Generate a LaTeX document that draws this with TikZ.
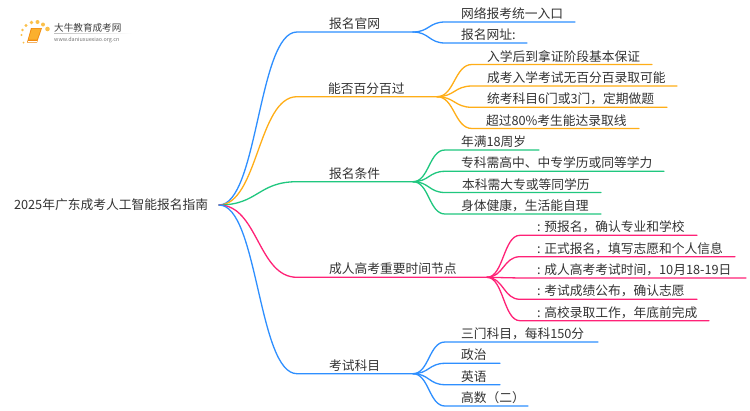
\documentclass[tikz,border=0pt]{standalone}
\usepackage{fontspec}
\setmainfont{Noto Sans CJK SC}
\usetikzlibrary{calc}
\definecolor{cblue}{HTML}{2E8FFF}
\definecolor{corange}{HTML}{FFAE17}
\definecolor{cgreen}{HTML}{20C77F}
\definecolor{cpink}{HTML}{FF2277}
\definecolor{ctext}{HTML}{333333}
\definecolor{bookA}{HTML}{F08A10}
\definecolor{bookB}{HTML}{FBB02E}
\definecolor{dotc}{HTML}{FBC04A}
\tikzset{
  lbl/.style={anchor=base west,inner sep=0pt,outer sep=0pt,text=ctext,font=\fontsize{12.75}{14}\selectfont},
  wire/.style={line width=1.3pt,line cap=round}
}
% \cv{colour}{from}{to}{end of underline}
\newcommand\cv[4]{\draw[wire,#1] let \p1=(#2),\p2=(#3),\n1={(\x1+\x2)/2} in (\p1) .. controls (\n1,\y1) and (\n1,\y2) .. (\p2) -- (#4);}
\begin{document}
\begin{tikzpicture}[x=1pt,y=-1pt]
\useasboundingbox (0,0) rectangle (750,410);
\fill[white] (0,0) rectangle (750,410);
% logo
\foreach \px/\py/\r in {23.5/42.5/1,21.5/35/1.2,22.5/30/1.4,26/25.5/1.7,31.5/22.5/1.9,37.5/22/2,43/24.5/2,47.5/29/2.3}{
  \fill[dotc] (\px,\py) circle (\r);
}
\fill[bookA] (31,28) -- (42,28) -- (37,42.5) -- (27,42.5) -- cycle;
\fill[bookB] (32,28.5) -- (41,28.5) -- (37,39.5) -- (28.5,39.5) -- cycle;
\draw[white,line width=.5pt] (28,41) -- (36.5,41);
\node[anchor=base west,inner sep=0pt,text=black!75,font=\fontsize{9.6}{11}\selectfont] (logo) at (54,31) {大牛教育成考网};
\node[anchor=base west,inner sep=0pt,text=black!55,font=\fontsize{5.4}{6}\selectfont] (url) at (54,41) {www.daniuxuexiao.org.cn};
\shade[left color=black!25,right color=white] (54,33) rectangle (132,33.6);
% root
\node[lbl] (root) at (14,209.5) {2025年广东成考人工智能报名指南};
\coordinate (r) at (219,205);
% branch joints
\coordinate (a0) at (297,32);\coordinate (a1) at (413,32);
\coordinate (b0) at (297,96.7);\coordinate (b1) at (437,96.7);
\coordinate (c0) at (297,181.7);\coordinate (c1) at (413,181.7);
\coordinate (d0) at (297,277.3);\coordinate (d1) at (487,277.3);
\coordinate (e0) at (297,373.7);\coordinate (e1) at (413,373.7);
\cv{cblue}{r}{a0}{a1}
\cv{corange}{r}{b0}{b1}
\cv{cgreen}{r}{c0}{c1}
\cv{cpink}{r}{d0}{d1}
\cv{cblue}{r}{e0}{e1}
% branch labels
\node[lbl] (A) at (329,28.5) {报名官网};
\node[lbl] (B) at (328,93) {能否百分百过};
\node[lbl] (C) at (329,178) {报名条件};
\node[lbl] (D) at (329,273.8) {成人高考重要时间节点};
\node[lbl] (E) at (329,370) {考试科目};
% branch A
\coordinate (a1s) at (445,22);\coordinate (a1e) at (575,22);
\coordinate (a2s) at (445,43);\coordinate (a2e) at (527,43);
\cv{cblue}{a1}{a1s}{a1e}
\cv{cblue}{a1}{a2s}{a2e}
\node[lbl] (A1) at (461,18.5) {网络报考统一入口};
\node[lbl] (A2) at (461,39.5) {报名网址:};
% branch B
\coordinate (b1s) at (472,64.5);\coordinate (b1e) at (652,64.5);
\coordinate (b2s) at (472,86);\coordinate (b2e) at (677,86);
\coordinate (b3s) at (472,107.3);\coordinate (b3e) at (667,107.3);
\coordinate (b4s) at (472,128.5);\coordinate (b4e) at (639,128.5);
\cv{corange}{b1}{b1s}{b1e}
\cv{corange}{b1}{b2s}{b2e}
\cv{corange}{b1}{b3s}{b3e}
\cv{corange}{b1}{b4s}{b4e}
\node[lbl] (B1) at (487,61) {入学后到拿证阶段基本保证};
\node[lbl] (B2) at (487,82.5) {成考入学考试无百分百录取可能};
\node[lbl] (B3) at (487,103.8) {统考科目6门或3门，定期做题};
\node[lbl] (B4) at (486,125) {超过80\%考生能达录取线};
% branch C
\coordinate (c1s) at (445,150);\coordinate (c1e) at (539,150);
\coordinate (c2s) at (445,171.3);\coordinate (c2e) at (664,171.3);
\coordinate (c3s) at (445,192.5);\coordinate (c3e) at (601,192.5);
\coordinate (c4s) at (445,214);\coordinate (c4e) at (601,214);
\cv{cgreen}{c1}{c1s}{c1e}
\cv{cgreen}{c1}{c2s}{c2e}
\cv{cgreen}{c1}{c3s}{c3e}
\cv{cgreen}{c1}{c4s}{c4e}
\node[lbl] (C1) at (461,146.5) {年满18周岁};
\node[lbl] (C2) at (461,167.8) {专科需高中、中专学历或同等学力};
\node[lbl] (C3) at (462,189) {本科需大专或等同学历};
\node[lbl] (C4) at (461,210.5) {身体健康，生活能自理};
% branch D
\coordinate (d1s) at (520,235.3);\coordinate (d1e) at (697,235.3);
\coordinate (d2s) at (520,256.7);\coordinate (d2e) at (735,256.7);
\coordinate (d3s) at (520,278);\coordinate (d3e) at (746,278);
\coordinate (d4s) at (520,299.3);\coordinate (d4e) at (697,299.3);
\coordinate (d5s) at (520,320.7);\coordinate (d5e) at (709,320.7);
\cv{cpink}{d1}{d1s}{d1e}
\cv{cpink}{d1}{d2s}{d2e}
\cv{cpink}{d1}{d3s}{d3e}
\cv{cpink}{d1}{d4s}{d4e}
\cv{cpink}{d1}{d5s}{d5e}
\node[lbl] (D1) at (537,231.8) {: 预报名，确认专业和学校};
\node[lbl] (D2) at (537,253.2) {: 正式报名，填写志愿和个人信息};
\node[lbl] (D3) at (537,274.5) {: 成人高考考试时间，10月18-19日};
\node[lbl] (D4) at (537,295.8) {: 考试成绩公布，确认志愿};
\node[lbl] (D5) at (537,317.2) {: 高校录取工作，年底前完成};
% branch E
\coordinate (e1s) at (445,342);\coordinate (e1e) at (598,342);
\coordinate (e2s) at (445,363.3);\coordinate (e2e) at (500,363.3);
\coordinate (e3s) at (445,384.7);\coordinate (e3e) at (500,384.7);
\coordinate (e4s) at (445,406);\coordinate (e4e) at (528,406);
\cv{cblue}{e1}{e1s}{e1e}
\cv{cblue}{e1}{e2s}{e2e}
\cv{cblue}{e1}{e3s}{e3e}
\cv{cblue}{e1}{e4s}{e4e}
\node[lbl] (E1) at (461,338.5) {三门科目，每科150分};
\node[lbl] (E2) at (461,359.8) {政治};
\node[lbl] (E3) at (461,381.2) {英语};
\node[lbl] (E4) at (461,402.5) {高数（二）};
\end{tikzpicture}
\end{document}
